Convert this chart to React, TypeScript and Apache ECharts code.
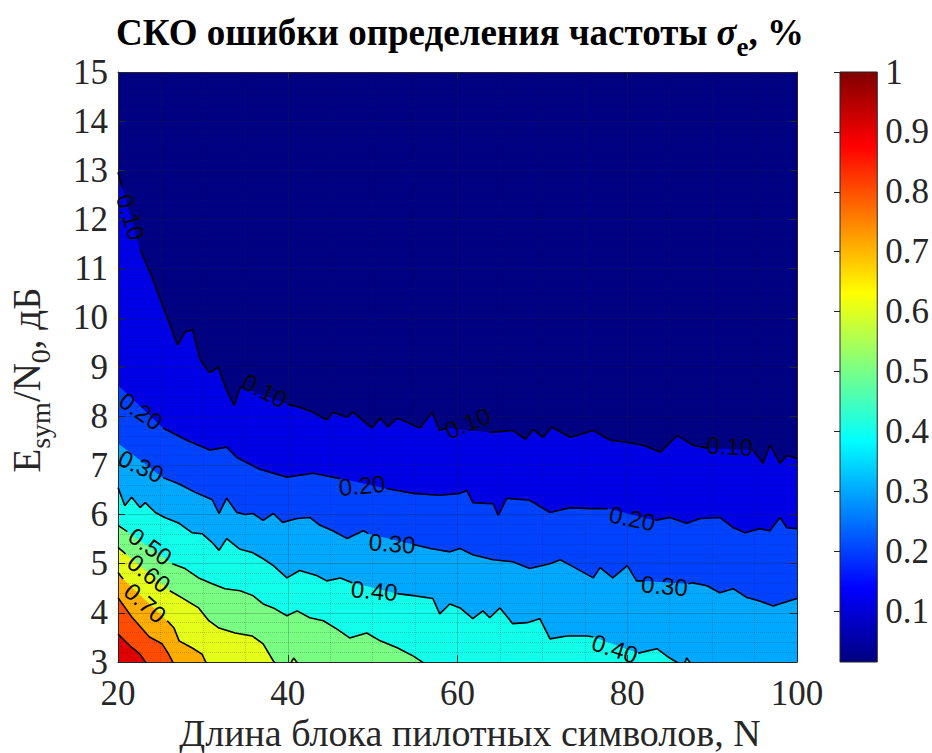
import React, { useEffect, useRef } from 'react';
import * as echarts from 'echarts';

// ---------------- data ----------------
const X_MIN = 20;
const X_MAX = 100;
const Y_MIN = 3;
const Y_MAX = 15;
const CB_MIN = 0.015;
const CB_MAX = 1;
const CB_TICKS = [0.1, 0.2, 0.3, 0.4, 0.5, 0.6, 0.7, 0.8, 0.9, 1];

const LEVELS = [0.1, 0.2, 0.3, 0.4, 0.5, 0.6, 0.7, 0.8, 0.9];

// contour lines: [N, Esym/N0 dB]
const contour010 = [[20, 12.96], [20.5, 12.65], [22.6, 11.39], [23.8, 10.92], [25.9, 9.96], [27.0, 9.45], [27.9, 9.71], [28.8, 9.76], [29.7, 9.14], [30.8, 8.88], [31.8, 9.0], [32.8, 8.53], [33.7, 8.22], [34.4, 8.59], [34.7, 8.57], [40.0, 8.24], [41.4, 8.18], [43.0, 8.08], [44.6, 7.92], [45.3, 8.08], [47.0, 7.98], [47.7, 8.08], [49.9, 7.76], [50.9, 7.96], [51.8, 7.78], [52.9, 7.96], [55.6, 7.76], [57.0, 8.08], [57.9, 7.71], [58.8, 7.76], [63.8, 7.67], [66.5, 7.71], [68.0, 7.53], [68.9, 7.73], [70.1, 7.57], [71.1, 7.78], [73.3, 7.57], [76.0, 7.71], [78.0, 7.51], [80.0, 7.47], [81.9, 7.41], [83.9, 7.27], [85.9, 7.61], [87.7, 7.41], [89.4, 7.35], [94.8, 7.31], [96.0, 7.04], [96.8, 7.41], [98.0, 7.04], [98.8, 7.2], [100, 7.14]];
const contour020 = [[20, 8.63], [25.3, 7.76], [28.1, 7.51], [30.8, 7.31], [32.8, 7.37], [34.0, 7.16], [36.7, 6.92], [39.9, 6.76], [43.0, 6.84], [45.3, 6.76], [46.2, 6.73], [51.6, 6.53], [54.8, 6.43], [57.9, 6.39], [60.3, 6.43], [61.1, 6.49], [61.8, 6.24], [64.2, 6.22], [64.8, 5.98], [65.8, 6.33], [68.5, 6.29], [70.9, 6.04], [73.3, 6.14], [75.6, 6.12], [77.7, 6.12], [83.3, 5.88], [85.0, 5.94], [87.0, 5.82], [88.6, 5.92], [90.9, 5.94], [92.5, 5.73], [93.9, 5.63], [95.6, 5.71], [96.8, 5.67], [98.0, 5.94], [98.8, 5.73], [100, 5.71]];
const contour030 = [[20, 7.45], [25.3, 6.75], [27.2, 6.62], [29.1, 6.45], [31.1, 6.3], [31.9, 6.02], [32.8, 6.33], [34.0, 6.04], [35.0, 6.0], [35.9, 6.02], [37.1, 5.88], [38.3, 6.02], [39.4, 5.84], [41.1, 5.92], [42.6, 5.94], [43.8, 5.78], [45.3, 5.67], [47.0, 5.51], [48.9, 5.67], [49.5, 5.61], [54.8, 5.39], [56.8, 5.31], [59.1, 5.24], [60.3, 5.31], [61.8, 5.18], [64.2, 5.08], [66.5, 5.04], [68.5, 4.9], [70.9, 5.0], [72.1, 5.08], [73.6, 4.94], [76.0, 4.71], [76.8, 4.92], [78.3, 4.71], [80.0, 4.96], [81.1, 4.65], [81.9, 4.65], [87.2, 4.59], [87.7, 4.61], [89.4, 4.55], [90.9, 4.41], [92.5, 4.49], [94.1, 4.31], [95.6, 4.24], [97.2, 4.14], [98.3, 4.2], [100, 4.29]];
const contour040 = [[20, 6.55], [20.8, 6.18], [21.6, 6.35], [22.6, 6.14], [23.2, 6.24], [24.4, 6.04], [25.5, 5.94], [27.2, 5.82], [28.7, 5.63], [29.9, 5.61], [31.1, 5.43], [31.9, 5.27], [32.8, 5.51], [34.3, 5.3], [35.9, 5.22], [37.1, 5.1], [38.3, 4.96], [39.9, 4.71], [41.4, 4.86], [43.4, 4.76], [44.6, 4.65], [46.2, 4.71], [47.6, 4.61], [52.9, 4.39], [54.8, 4.35], [57.1, 4.29], [57.9, 3.98], [59.1, 4.18], [60.3, 4.1], [61.8, 3.88], [63.0, 4.04], [63.8, 3.9], [65.0, 4.1], [66.5, 3.78], [68.2, 3.8], [69.7, 3.88], [70.9, 3.47], [72.9, 3.53], [75.3, 3.53], [76.0, 3.51], [81.3, 3.18], [83.5, 3.27], [85.0, 3.08], [86.0, 2.98], [86.6, 2.9], [87.0, 3.08], [87.7, 2.92], [88.6, 2.78], [100, 2.4]];
const contour050 = [[20, 5.78], [21.1, 5.65], [26.4, 5.0], [27.9, 4.9], [29.5, 4.71], [31.1, 4.59], [32.6, 4.49], [34.4, 4.45], [35.9, 4.35], [37.1, 4.18], [38.3, 4.1], [39.9, 3.94], [41.1, 4.04], [42.6, 3.9], [44.2, 3.84], [45.8, 3.67], [47.3, 3.49], [49.3, 3.59], [50.9, 3.43], [52.9, 3.29], [54.8, 3.12], [56.2, 2.96], [57.9, 2.71], [100, 2.2]];
const contour060 = [[20, 5.33], [20.9, 5.2], [26.1, 4.45], [27.5, 4.31], [29.5, 4.1], [30.7, 3.84], [31.9, 3.69], [33.8, 3.59], [35.8, 3.53], [37.1, 3.37], [38.3, 3.02], [38.7, 2.94], [40.0, 2.88], [40.7, 3.08], [41.4, 2.92], [42.2, 2.78], [100, 2.2]];
const contour070 = [[20, 4.82], [20.6, 4.69], [25.8, 3.84], [26.6, 3.69], [27.2, 3.43], [28.7, 3.29], [29.9, 3.16], [30.4, 2.98], [31.1, 2.82], [100, 2.2]];
const contour080 = [[20, 4.31], [21.6, 3.92], [23.7, 3.51], [25.2, 3.37], [25.9, 3.18], [26.5, 2.98], [27.3, 2.78], [100, 2.2]];
const contour090 = [[20, 3.57], [21.4, 3.33], [22.6, 3.16], [23.3, 2.98], [24.0, 2.78], [100, 2.2]];

// N ranges where a contour's line is interrupted by its label
const gaps010 = [[20.5, 22.6], [34.7, 40.0], [58.8, 63.8], [89.4, 94.8]];
const gaps020 = [[20, 25.3], [46.2, 51.6], [77.7, 83.3]];
const gaps030 = [[20, 25.3], [49.5, 54.8], [81.9, 87.2]];
const gaps040 = [[47.6, 52.9], [76.0, 81.3]];
const gaps050 = [[21.1, 26.4]];
const gaps060 = [[20.9, 26.1]];
const gaps070 = [[20.6, 25.8]];
const gaps080: number[][] = [];
const gaps090: number[][] = [];

// contour labels: [level, N, E, angle]
const contourLabels = [
  [0.1, 21.5, 12.05, -73],
  [0.1, 37.3, 8.52, -28],
  [0.1, 61.2, 7.86, 22],
  [0.1, 92.1, 7.39, -3],
  [0.2, 22.7, 8.1, -35],
  [0.2, 48.75, 6.59, 5],
  [0.2, 80.6, 5.92, -12],
  [0.3, 22.7, 6.98, -25],
  [0.3, 52.3, 5.41, -4],
  [0.3, 84.4, 4.55, -5],
  [0.4, 50.2, 4.45, -5],
  [0.4, 78.55, 3.27, -18],
  [0.5, 23.8, 5.35, -35],
  [0.6, 23.65, 4.8, -38],
  [0.7, 23.2, 4.2, -42],
];

const CONTOURS = [contour010, contour020, contour030, contour040, contour050, contour060, contour070, contour080, contour090];
const GAPS = [gaps010, gaps020, gaps030, gaps040, gaps050, gaps060, gaps070, gaps080, gaps090];

// ---------------- styles ----------------
const BG_COLOR = '#000082';
const BAND_COLORS = ['#0000E6', '#0042FF', '#00A8FF', '#12FFEC', '#7AFF85', '#E4FF1A', '#FFAE00', '#FF4C00', '#E00000'];
const JET_STOPS = [
  { offset: 0, color: '#000080' },
  { offset: 0.125, color: '#0000FF' },
  { offset: 0.375, color: '#00FFFF' },
  { offset: 0.625, color: '#FFFF00' },
  { offset: 0.875, color: '#FF0000' },
  { offset: 1, color: '#800000' },
];
const SERIF = "'Liberation Serif', 'Times New Roman', serif";
const SANS = "'Liberation Sans', Arial, sans-serif";
const INK = '#262626';

function withGaps(pts: number[][], gaps: number[][]) {
  const out: any[] = [];
  pts.forEach((p, i) => {
    out.push(p);
    const q = pts[i + 1];
    if (q && gaps.some(([a, b]) => Math.abs(p[0] - a) < 1e-6 && Math.abs(q[0] - b) < 1e-6)) {
      out.push([(p[0] + q[0]) / 2, '-']);
    }
  });
  return out;
}

export default function App() {
  const ref = useRef<HTMLDivElement>(null);
  useEffect(() => {
    const chart = echarts.init(ref.current as HTMLDivElement, null, { renderer: 'svg' });

    const areaSeries = CONTOURS.map((pts, i) => ({
      type: 'line',
      xAxisIndex: 0,
      yAxisIndex: 0,
      data: pts,
      symbol: 'none',
      silent: true,
      clip: true,
      z: 2,
      lineStyle: { width: 0, opacity: 0 },
      areaStyle: { color: BAND_COLORS[i], opacity: 1, origin: 'start' },
    }));
    const lineSeries = CONTOURS.map((pts, i) => ({
      type: 'line',
      xAxisIndex: 0,
      yAxisIndex: 0,
      data: withGaps(pts, GAPS[i]),
      symbol: 'none',
      silent: true,
      clip: true,
      connectNulls: false,
      z: 4,
      lineStyle: { color: '#000', width: 1.6 },
    }));
    const labelSeries = {
      type: 'scatter',
      xAxisIndex: 0,
      yAxisIndex: 0,
      symbol: 'circle',
      symbolSize: 2,
      silent: true,
      z: 5,
      itemStyle: { color: 'rgba(0,0,0,0)' },
      label: {
        show: true,
        position: 'inside',
        fontFamily: SANS,
        fontSize: 24,
        color: '#0a0a0a',
        opacity: 1,
        formatter: (p: any) => (p.value[2] as number).toFixed(2),
      },
      data: contourLabels.map(([lv, n, e, ang]) => ({
        value: [n, e, lv],
        label: { rotate: ang },
      })),
    };
    const colorbarSeries = {
      type: 'custom',
      xAxisIndex: 2,
      yAxisIndex: 2,
      silent: true,
      z: 2,
      data: [[0, CB_MIN, 1, CB_MAX]],
      renderItem: (params: any, api: any) => {
        const p0 = api.coord([api.value(0), api.value(3)]);
        const p1 = api.coord([api.value(2), api.value(1)]);
        return {
          type: 'rect',
          shape: { x: p0[0], y: p0[1], width: p1[0] - p0[0], height: p1[1] - p0[1] },
          style: {
            fill: new echarts.graphic.LinearGradient(0, 1, 0, 0, JET_STOPS),
            stroke: INK,
            lineWidth: 1,
          },
        };
      },
    };

    const tickLabel = { fontFamily: SERIF, fontSize: 35, color: INK };
    const boxAxis = {
      axisLine: { show: true, onZero: false, lineStyle: { color: INK, width: 1 } },
      axisTick: { show: true, inside: true, length: 7, lineStyle: { color: INK } },
      axisLabel: { show: false },
      splitLine: { show: false },
    };

    const option: any = {
      animation: false,
      backgroundColor: '#ffffff',
      grid: [
        { left: 118, right: 135, top: 72, bottom: 91, show: true, backgroundColor: BG_COLOR, borderWidth: 0 },
        { left: 840, width: 38, top: 72, height: 590, show: false },
      ],
      xAxis: [
        {
          type: 'value', gridIndex: 0, min: X_MIN, max: X_MAX, interval: 20, position: 'bottom', z: 3,
          axisLine: { show: true, onZero: false, lineStyle: { color: INK, width: 1 } },
          axisTick: { show: true, inside: true, length: 7, lineStyle: { color: INK } },
          axisLabel: { ...tickLabel, margin: 14 },
          splitLine: { show: true, lineStyle: { color: 'rgba(30,30,30,0.22)', width: 1 } },
          minorTick: { show: false, splitNumber: 4 },
          minorSplitLine: { show: true, lineStyle: { color: 'rgba(30,30,30,0.2)', width: 1, type: 'dotted' } },
        },
        { type: 'value', gridIndex: 0, min: X_MIN, max: X_MAX, interval: 20, position: 'top', z: 3, ...boxAxis },
        { type: 'value', gridIndex: 1, min: 0, max: 1, show: false },
      ],
      yAxis: [
        {
          type: 'value', gridIndex: 0, min: Y_MIN, max: Y_MAX, interval: 1, position: 'left', z: 3,
          axisLine: { show: true, onZero: false, lineStyle: { color: INK, width: 1 } },
          axisTick: { show: true, inside: true, length: 7, lineStyle: { color: INK } },
          axisLabel: { ...tickLabel, margin: 10 },
          splitLine: { show: true, lineStyle: { color: 'rgba(30,30,30,0.22)', width: 1 } },
          minorTick: { show: false, splitNumber: 5 },
          minorSplitLine: { show: true, lineStyle: { color: 'rgba(30,30,30,0.2)', width: 1, type: 'dotted' } },
        },
        { type: 'value', gridIndex: 0, min: Y_MIN, max: Y_MAX, interval: 1, position: 'right', z: 3, ...boxAxis },
        {
          type: 'value', gridIndex: 1, min: CB_MIN, max: CB_MAX, position: 'right', z: 5,
          axisLine: { show: false },
          axisTick: { show: true, inside: true, length: 6, lineStyle: { color: INK }, customValues: CB_TICKS },
          axisLabel: {
            ...tickLabel, margin: 8, customValues: CB_TICKS,
            formatter: (v: number) => (v >= 0.999 ? '1' : v.toFixed(1)),
          },
          splitLine: { show: false },
        },
      ],
      graphic: [
        {
          type: 'text',
          x: 460,
          y: 32,
          silent: true,
          style: {
            text: '{b|СКО ошибки определения частоты }{s|σ}{sub|e}{b|, %}',
            align: 'center',
            verticalAlign: 'middle',
            fill: '#000',
            rich: {
              b: { fontFamily: SERIF, fontSize: 37, fontWeight: 'bold', lineHeight: 40, color: '#000' },
              s: { fontFamily: SERIF, fontSize: 37, fontStyle: 'italic', fontWeight: 'bold', lineHeight: 40, color: '#000' },
              sub: { fontFamily: SERIF, fontSize: 27, fontWeight: 'bold', lineHeight: 28, padding: [30, 0, 0, 0], color: '#000' },
            },
          },
        },
        {
          type: 'text',
          x: 26,
          y: 380,
          rotation: Math.PI / 2,
          silent: true,
          style: {
            text: '{m|E}{sub|sym}{m|/N}{sub|0}{m|, дБ}',
            align: 'center',
            verticalAlign: 'middle',
            fill: INK,
            rich: {
              m: { fontFamily: SERIF, fontSize: 39, lineHeight: 42, color: INK },
              sub: { fontFamily: SERIF, fontSize: 28, lineHeight: 30, padding: [28, 0, 0, 0], color: INK },
            },
          },
        },
        {
          type: 'text',
          x: 470,
          y: 733,
          silent: true,
          style: {
            text: 'Длина блока пилотных символов, N',
            align: 'center',
            verticalAlign: 'middle',
            fill: INK,
            fontFamily: SERIF,
            fontSize: 38,
          },
        },
      ],
      series: [...areaSeries, ...lineSeries, labelSeries, colorbarSeries],
    };

    chart.setOption(option);
    return () => chart.dispose();
  }, []);

  return (
    <div
      ref={ref}
      style={{ position: 'fixed', left: 0, top: 0, width: 932, height: 753, background: '#fff' }}
    />
  );
}
